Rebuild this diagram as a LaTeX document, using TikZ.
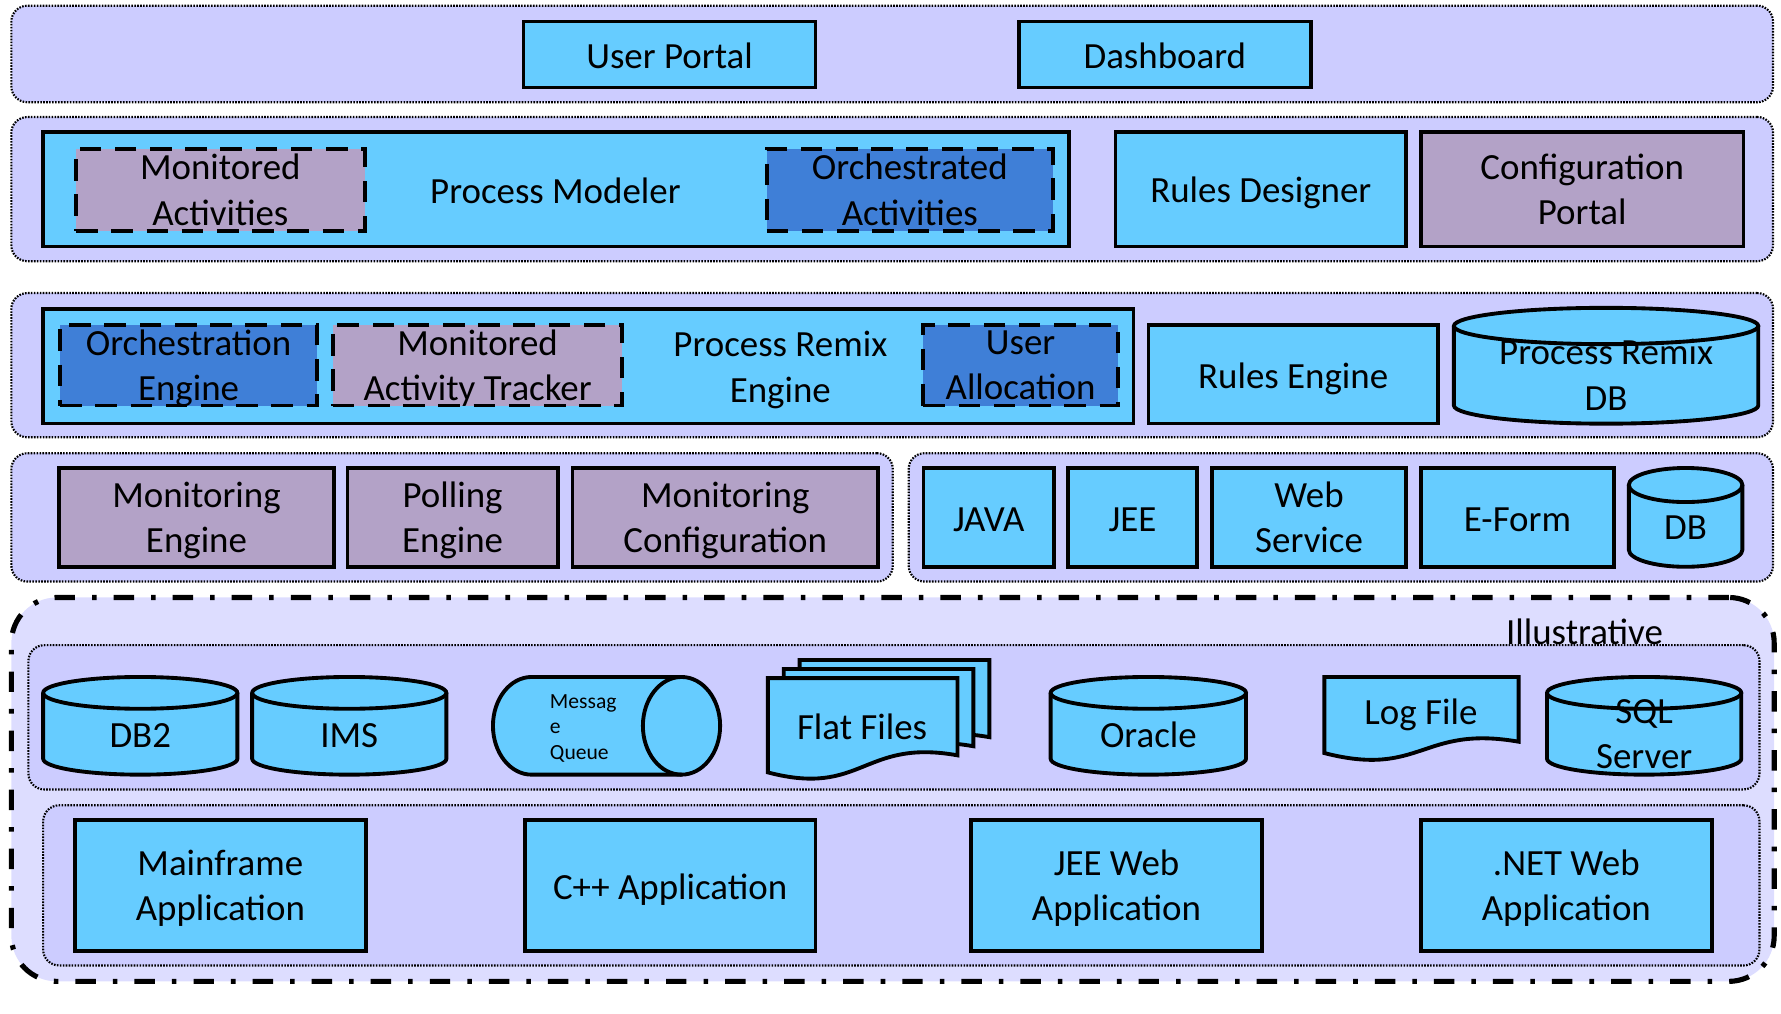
\documentclass[tikz,border=0pt]{standalone}
\usepackage{fontspec}
\setmainfont{Carlito}

\definecolor{panelfill}{HTML}{CCCCFF}
\definecolor{outerfill}{HTML}{DDDDFF}
\definecolor{boxblue}{HTML}{66CCFF}
\definecolor{boxpurple}{HTML}{B3A2C7}
\definecolor{boxdark}{HTML}{3F7FD7}

\newcommand\mainsz{\fontsize{32.5}{40}\selectfont}
\newcommand\smallsz{\fontsize{19}{22.5}\selectfont}

\tikzset{
  layer/.style={draw=black, fill=panelfill, line width=1.9pt,
    dash pattern=on 1.4pt off 1.2pt, rounded corners=14pt, inner sep=0pt},
  zone/.style={draw=black, fill=outerfill, line width=4.5pt,
    dash pattern=on 18pt off 15pt on 4pt off 15pt, rounded corners=40pt, inner sep=0pt},
  blk/.style={draw=black, fill=boxblue, line width=3.2pt, inner sep=0pt,
    align=center, font=\mainsz, text depth=0pt},
  one/.style={text height=24.4pt},
  mon/.style={fill=boxpurple},
  orch/.style={fill=boxdark},
  sub/.style={dash pattern=on 19pt off 12pt, line width=3.5pt},
  plaintext/.style={inner sep=0pt, align=center, font=\mainsz, text depth=0pt},
  edge/.style={draw=black, line width=3.4pt},
  docedge/.style={draw=black, fill=boxblue, line width=3.4pt},
}

% box given by its corners: [style]{name}{x1}{y1}{x2}{y2}{text}
\newcommand\placebox[7][blk]{%
  \node[#1, minimum width={(#5-#3)*1pt}, minimum height={(#6-#4)*1pt}]
    (#2) at ({(#3+#5)/2},{(#4+#6)/2}) {#7};}

% upright cylinder: [text style]{name}{x1}{y1}{x2}{y2}{ry}{text}
\newcommand\vcyl[8][]{%
  \pgfmathsetmacro\cylcx{(#3+#5)/2}%
  \pgfmathsetmacro\cylrx{(#5-#3)/2}%
  \pgfmathsetmacro\cyltop{#4+#7}%
  \pgfmathsetmacro\cylbot{#6-#7}%
  \fill[boxblue] (#3,\cyltop) -- (#3,\cylbot)
    arc[start angle=180, end angle=360, x radius=\cylrx pt, y radius=#7 pt]
    -- (#5,\cyltop) -- cycle;
  \fill[boxblue] (\cylcx,\cyltop) ellipse[x radius=\cylrx pt, y radius=#7 pt];
  \node[plaintext,#1] (#2) at (\cylcx,{(\cyltop+#6)/2}) {#8};
  \draw[edge] (#3,\cyltop) -- (#3,\cylbot)
    arc[start angle=180, end angle=360, x radius=\cylrx pt, y radius=#7 pt]
    -- (#5,\cyltop);
  \draw[edge] (\cylcx,\cyltop) ellipse[x radius=\cylrx pt, y radius=#7 pt];
}

% document sheet with a wavy lower edge: {x1}{y1}{x2}{yLeft}{yRight}
\newcommand\docshape[5]{%
  \filldraw[docedge] (#1,#2) -- (#3,#2) -- (#3,#5)
    .. controls ({(#1+#3)/2},{#5-15}) and ({(#1+#3)/2},{#4+22}) .. (#1,#4) -- cycle;}

\begin{document}
\begin{tikzpicture}[x=1pt,y=-1pt]
\useasboundingbox (0,0) rectangle (1568,892);

% presentation layer
\placebox[layer]{presL}{10}{5}{1561}{90}{}
\placebox[blk,one]{portal}{461}{19}{718}{77}{User Portal}
\placebox[blk,one]{dashboard}{897}{19}{1154}{77}{Dashboard}

% design layer
\placebox[layer]{designL}{10}{103}{1561}{230}{}
\placebox{modeler}{38}{116}{941}{217}{}
\node[plaintext,one] (modelerT) at (489,167) {Process Modeler};
\placebox[blk,mon,sub]{monAct}{67}{131}{321}{203}{Monitored\\Activities}
\placebox[blk,orch,sub]{orchAct}{675}{131}{927}{203}{Orchestrated\\Activities}
\placebox[blk,one]{rulesD}{982}{116}{1238}{217}{Rules Designer}
\placebox[blk,mon]{config}{1251}{116}{1535}{217}{Configuration\\Portal}

% runtime layer
\placebox[layer]{runL}{10}{258}{1561}{385}{}
\placebox{remix}{38}{272}{998}{373}{}
\placebox[blk,orch,sub]{orchEng}{53}{286}{279}{357}{Orchestration\\Engine}
\placebox[blk,mon,sub]{tracker}{293}{286}{548}{357}{Monitored\\Activity Tracker}
\node[plaintext] (remixT) at (687,323) {Process Remix\\Engine};
\placebox[blk,orch,sub]{alloc}{813}{286}{984}{357}{User\\Allocation}
\placebox[blk,one]{rulesE}{1011}{286}{1266}{373}{Rules Engine}
\vcyl{remixDB}{1280}{271}{1548}{373}{16}{Process Remix\\DB}

% monitoring layer
\placebox[layer]{monL}{10}{399}{786}{512}{}
\placebox[blk,mon]{monEng}{52}{412}{294}{499}{Monitoring\\Engine}
\placebox[blk,mon]{polling}{306}{412}{491}{499}{Polling\\Engine}
\placebox[blk,mon]{monCfg}{504}{412}{773}{499}{Monitoring\\Configuration}

% integration adapters
\placebox[layer]{adaptL}{800}{399}{1561}{512}{}
\placebox[blk,one]{java}{813}{412}{928}{499}{JAVA}
\placebox[blk,one]{jee}{940}{412}{1054}{499}{JEE}
\placebox{ws}{1067}{412}{1238}{499}{Web\\Service}
\placebox[blk,one]{eform}{1251}{412}{1421}{499}{E-Form}
\vcyl[one]{db}{1434}{412}{1534}{499}{15}{DB}

% existing systems
\placebox[zone]{zone}{10}{526}{1562}{864}{}
\node[plaintext,one] (illus) at (1395,555) {Illustrative};

\placebox[layer]{storeL}{25}{568}{1549}{695}{}
\vcyl[one]{db2}{38}{596}{209}{682}{14}{DB2}
\vcyl[one]{ims}{222}{596}{393}{682}{14}{IMS}

% message queue (horizontal cylinder)
\fill[boxblue] (468,596) -- (600,596)
  arc[start angle=90, end angle=-90, x radius=34pt, y radius=43pt]
  -- (468,682) arc[start angle=270, end angle=90, x radius=34pt, y radius=43pt] -- cycle;
\draw[edge] (600,596) -- (468,596)
  arc[start angle=90, end angle=270, x radius=34pt, y radius=43pt] -- (600,682);
\draw[edge] (600,639) ellipse[x radius=34pt, y radius=43pt];
\node[inner sep=0pt, anchor=west, align=left, font=\smallsz] (mq) at (484,641) {Messag\\e\\Queue};

% stacked flat files
\docshape{704}{581}{871}{664}{649}
\docshape{690}{589}{857}{672}{657}
\docshape{676}{597}{843}{680}{665}
\node[plaintext,one] (flat) at (759,639) {Flat Files};

\vcyl[one]{oracle}{925}{596}{1097}{682}{14}{Oracle}

\docshape{1166}{596}{1337}{663}{653}
\node[plaintext,one] (logf) at (1251,626) {Log File};

\vcyl{sql}{1362}{596}{1533}{682}{14}{SQL\\Server}

\placebox[layer]{appL}{38}{709}{1549}{850}{}
\placebox{mainframe}{66}{722}{322}{837}{Mainframe\\Application}
\placebox[blk,one]{cpp}{462}{722}{718}{837}{C++ Application}
\placebox{jeeweb}{855}{722}{1111}{837}{JEE Web\\Application}
\placebox{netweb}{1251}{722}{1507}{837}{.NET Web\\Application}
\end{tikzpicture}
\end{document}
